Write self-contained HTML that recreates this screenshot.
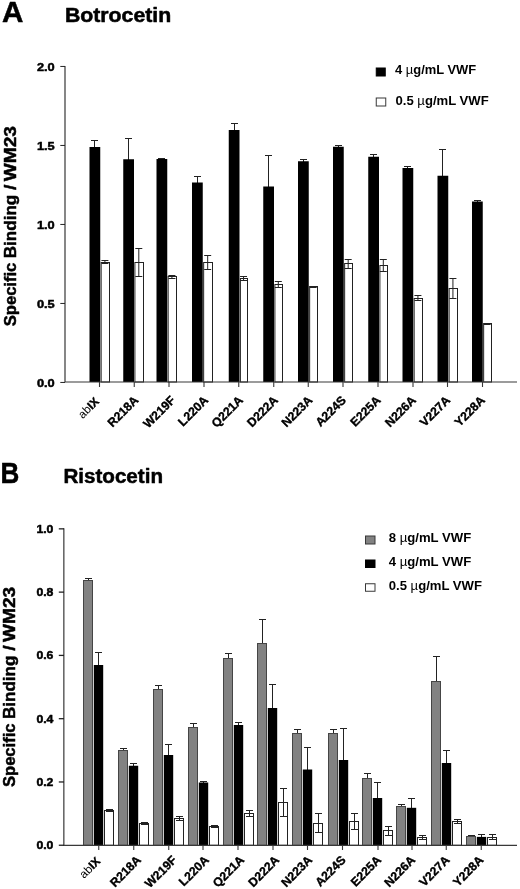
<!DOCTYPE html>
<html><head><meta charset="utf-8"><title>Figure</title>
<style>
html,body{margin:0;padding:0;background:#fff;}
body{width:520px;height:889px;overflow:hidden;font-family:"Liberation Sans",sans-serif;}
svg{display:block;filter:grayscale(1);}
svg text{font-family:"Liberation Sans",sans-serif;fill:#000;}
svg text.m{stroke:#000;stroke-width:0.5px;stroke-linejoin:round;}
svg text.m2{stroke:#000;stroke-width:0.35px;stroke-linejoin:round;}
</style></head><body>
<svg width="520" height="889" viewBox="0 0 520 889">
<rect width="520" height="889" fill="#fff"/>
<rect x="101.15" y="262.5" width="8.35" height="119.5" fill="#fff" stroke="#222" stroke-width="1"/>
<path d="M104.92 260.5V263.5M101.42 260.5H108.42M101.42 263.5H108.42" stroke="#222" stroke-width="1" fill="none"/>
<path d="M94.5 140.5V148M91 140.5H98" stroke="#222" stroke-width="1" fill="none"/>
<rect x="89.5" y="147" width="10.75" height="235" fill="#000"/>
<rect x="134.9" y="262.5" width="8.6" height="119.5" fill="#fff" stroke="#222" stroke-width="1"/>
<path d="M138.8 248.5V276.5M135.3 248.5H142.3M135.3 276.5H142.3" stroke="#222" stroke-width="1" fill="none"/>
<path d="M128.5 138.5V160.25M125 138.5H132" stroke="#222" stroke-width="1" fill="none"/>
<rect x="123.25" y="159.25" width="10.75" height="222.75" fill="#000"/>
<rect x="168.15" y="276.5" width="8.35" height="105.5" fill="#fff" stroke="#222" stroke-width="1"/>
<path d="M171.93 275.5V278.5M168.43 275.5H175.43M168.43 278.5H175.43" stroke="#222" stroke-width="1" fill="none"/>
<path d="M161.5 158.5V160M158 158.5H165" stroke="#222" stroke-width="1" fill="none"/>
<rect x="156.5" y="159" width="10.75" height="223" fill="#000"/>
<rect x="203.65" y="262.5" width="8.85" height="119.5" fill="#fff" stroke="#222" stroke-width="1"/>
<path d="M207.68 255.5V269.5M204.18 255.5H211.18M204.18 269.5H211.18" stroke="#222" stroke-width="1" fill="none"/>
<path d="M197.5 176.5V183.5M194 176.5H201" stroke="#222" stroke-width="1" fill="none"/>
<rect x="192" y="182.5" width="10.75" height="199.5" fill="#000"/>
<rect x="240.4" y="278.5" width="7.1" height="103.5" fill="#fff" stroke="#222" stroke-width="1"/>
<path d="M243.55 276.5V280.5M240.05 276.5H247.05M240.05 280.5H247.05" stroke="#222" stroke-width="1" fill="none"/>
<path d="M234.5 123.5V131M231 123.5H238" stroke="#222" stroke-width="1" fill="none"/>
<rect x="228.75" y="130" width="10.75" height="252" fill="#000"/>
<rect x="274.9" y="284.5" width="7.6" height="97.5" fill="#fff" stroke="#222" stroke-width="1"/>
<path d="M278.3 281.5V287.5M274.8 281.5H281.8M274.8 287.5H281.8" stroke="#222" stroke-width="1" fill="none"/>
<path d="M268.5 155.5V187.5M265 155.5H272" stroke="#222" stroke-width="1" fill="none"/>
<rect x="263.25" y="186.5" width="10.75" height="195.5" fill="#000"/>
<rect x="309.65" y="286.5" width="7.85" height="95.5" fill="#fff" stroke="#222" stroke-width="1"/>
<path d="M313.18 286.5V287.5M309.68 286.5H316.68M309.68 287.5H316.68" stroke="#222" stroke-width="1" fill="none"/>
<path d="M303.5 159.5V162.25M300 159.5H307" stroke="#222" stroke-width="1" fill="none"/>
<rect x="298" y="161.25" width="10.75" height="220.75" fill="#000"/>
<rect x="344.65" y="263.5" width="7.85" height="118.5" fill="#fff" stroke="#222" stroke-width="1"/>
<path d="M348.18 259.5V268.5M344.68 259.5H351.68M344.68 268.5H351.68" stroke="#222" stroke-width="1" fill="none"/>
<path d="M338.5 145.5V147.75M335 145.5H342" stroke="#222" stroke-width="1" fill="none"/>
<rect x="333" y="146.75" width="10.75" height="235.25" fill="#000"/>
<rect x="379.9" y="265.5" width="7.6" height="116.5" fill="#fff" stroke="#222" stroke-width="1"/>
<path d="M383.3 259.5V271.5M379.8 259.5H386.8M379.8 271.5H386.8" stroke="#222" stroke-width="1" fill="none"/>
<path d="M373.5 154.5V157.75M370 154.5H377" stroke="#222" stroke-width="1" fill="none"/>
<rect x="368.25" y="156.75" width="10.75" height="225.25" fill="#000"/>
<rect x="414.15" y="298.5" width="8.35" height="83.5" fill="#fff" stroke="#222" stroke-width="1"/>
<path d="M417.93 295.5V300.5M414.43 295.5H421.43M414.43 300.5H421.43" stroke="#222" stroke-width="1" fill="none"/>
<path d="M407.5 166.5V169M404 166.5H411" stroke="#222" stroke-width="1" fill="none"/>
<rect x="402.5" y="168" width="10.75" height="214" fill="#000"/>
<rect x="449.15" y="288.5" width="8.35" height="93.5" fill="#fff" stroke="#222" stroke-width="1"/>
<path d="M452.93 278.5V298.5M449.43 278.5H456.43M449.43 298.5H456.43" stroke="#222" stroke-width="1" fill="none"/>
<path d="M442.5 149.5V176.75M439 149.5H446" stroke="#222" stroke-width="1" fill="none"/>
<rect x="437.5" y="175.75" width="10.75" height="206.25" fill="#000"/>
<rect x="483.65" y="323.5" width="7.85" height="58.5" fill="#fff" stroke="#222" stroke-width="1"/>
<path d="M487.18 323.5V324.5M483.68 323.5H490.68M483.68 324.5H490.68" stroke="#222" stroke-width="1" fill="none"/>
<path d="M477.5 200.5V202.5M474 200.5H481" stroke="#222" stroke-width="1" fill="none"/>
<rect x="472" y="201.5" width="10.75" height="180.5" fill="#000"/>
<path d="M65 65.9V382H517" stroke="#383838" stroke-width="1.2" fill="none"/>
<path d="M60.3 66.45H65" stroke="#222" stroke-width="1"/>
<path d="M60.3 145.45H65" stroke="#222" stroke-width="1"/>
<path d="M60.3 224.45H65" stroke="#222" stroke-width="1"/>
<path d="M60.3 303.45H65" stroke="#222" stroke-width="1"/>
<path d="M60.3 382.45H65" stroke="#222" stroke-width="1"/>
<path d="M99.5 382V387" stroke="#383838" stroke-width="1.1"/>
<path d="M134.25 382V387" stroke="#383838" stroke-width="1.1"/>
<path d="M169 382V387" stroke="#383838" stroke-width="1.1"/>
<path d="M204 382V387" stroke="#383838" stroke-width="1.1"/>
<path d="M238.75 382V387" stroke="#383838" stroke-width="1.1"/>
<path d="M273.75 382V387" stroke="#383838" stroke-width="1.1"/>
<path d="M308.25 382V387" stroke="#383838" stroke-width="1.1"/>
<path d="M343 382V387" stroke="#383838" stroke-width="1.1"/>
<path d="M378 382V387" stroke="#383838" stroke-width="1.1"/>
<path d="M413 382V387" stroke="#383838" stroke-width="1.1"/>
<path d="M447.5 382V387" stroke="#383838" stroke-width="1.1"/>
<path d="M482.5 382V387" stroke="#383838" stroke-width="1.1"/>
<path d="M88.5 578.5V581M85 578.5H92" stroke="#222" stroke-width="1" fill="none"/>
<rect x="83.5" y="580.5" width="9" height="264.8" fill="#828282" stroke="#454545" stroke-width="1"/>
<path d="M98.5 652.5V666M95 652.5H102" stroke="#222" stroke-width="1" fill="none"/>
<rect x="93.8" y="665" width="9.4" height="180.3" fill="#000"/>
<rect x="104.5" y="810.5" width="9" height="34.8" fill="#fff" stroke="#222" stroke-width="1"/>
<path d="M109.5 809.5V811.5M106 809.5H113M106 811.5H113" stroke="#222" stroke-width="1" fill="none"/>
<path d="M123.5 748.5V751.75M120 748.5H127" stroke="#222" stroke-width="1" fill="none"/>
<rect x="118.5" y="750.5" width="9" height="94.8" fill="#828282" stroke="#454545" stroke-width="1"/>
<path d="M133.5 763.5V766.75M130 763.5H137" stroke="#222" stroke-width="1" fill="none"/>
<rect x="128.8" y="765.75" width="9.4" height="79.55" fill="#000"/>
<rect x="139.5" y="823.5" width="9" height="21.8" fill="#fff" stroke="#222" stroke-width="1"/>
<path d="M144.5 822.5V824.5M141 822.5H148M141 824.5H148" stroke="#222" stroke-width="1" fill="none"/>
<path d="M158.5 685.5V690.5M155 685.5H162" stroke="#222" stroke-width="1" fill="none"/>
<rect x="153.5" y="689.5" width="9" height="155.8" fill="#828282" stroke="#454545" stroke-width="1"/>
<path d="M168.5 744.5V756M165 744.5H172" stroke="#222" stroke-width="1" fill="none"/>
<rect x="163.8" y="755" width="9.4" height="90.3" fill="#000"/>
<rect x="174.5" y="818.5" width="9" height="26.8" fill="#fff" stroke="#222" stroke-width="1"/>
<path d="M179.5 816.5V820.5M176 816.5H183M176 820.5H183" stroke="#222" stroke-width="1" fill="none"/>
<path d="M193.5 723.5V728.5M190 723.5H197" stroke="#222" stroke-width="1" fill="none"/>
<rect x="188.5" y="727.5" width="9" height="117.8" fill="#828282" stroke="#454545" stroke-width="1"/>
<path d="M203.5 781.5V783.5M200 781.5H207" stroke="#222" stroke-width="1" fill="none"/>
<rect x="198.8" y="782.5" width="9.4" height="62.8" fill="#000"/>
<rect x="209.5" y="826.5" width="9" height="18.8" fill="#fff" stroke="#222" stroke-width="1"/>
<path d="M214.5 825.5V827.5M211 825.5H218M211 827.5H218" stroke="#222" stroke-width="1" fill="none"/>
<path d="M228.5 653.5V659M225 653.5H232" stroke="#222" stroke-width="1" fill="none"/>
<rect x="223.5" y="658.5" width="9" height="186.8" fill="#828282" stroke="#454545" stroke-width="1"/>
<path d="M238.5 722.5V726M235 722.5H242" stroke="#222" stroke-width="1" fill="none"/>
<rect x="233.8" y="725" width="9.4" height="120.3" fill="#000"/>
<rect x="244.5" y="813.5" width="9" height="31.8" fill="#fff" stroke="#222" stroke-width="1"/>
<path d="M249.5 810.5V816.5M246 810.5H253M246 816.5H253" stroke="#222" stroke-width="1" fill="none"/>
<path d="M262.5 619.5V644.5M259 619.5H266" stroke="#222" stroke-width="1" fill="none"/>
<rect x="257.5" y="643.5" width="9" height="201.8" fill="#828282" stroke="#454545" stroke-width="1"/>
<path d="M272.5 684.5V709M269 684.5H276" stroke="#222" stroke-width="1" fill="none"/>
<rect x="267.8" y="708" width="9.4" height="137.3" fill="#000"/>
<rect x="278.5" y="802.5" width="9" height="42.8" fill="#fff" stroke="#222" stroke-width="1"/>
<path d="M283.5 788.5V816.5M280 788.5H287M280 816.5H287" stroke="#222" stroke-width="1" fill="none"/>
<path d="M297.5 729.5V734.75M294 729.5H301" stroke="#222" stroke-width="1" fill="none"/>
<rect x="292.5" y="733.5" width="9" height="111.8" fill="#828282" stroke="#454545" stroke-width="1"/>
<path d="M307.5 747.5V770.5M304 747.5H311" stroke="#222" stroke-width="1" fill="none"/>
<rect x="302.8" y="769.5" width="9.4" height="75.8" fill="#000"/>
<rect x="313.5" y="823.5" width="9" height="21.8" fill="#fff" stroke="#222" stroke-width="1"/>
<path d="M318.5 813.5V832.5M315 813.5H322M315 832.5H322" stroke="#222" stroke-width="1" fill="none"/>
<path d="M333.5 729.5V734.75M330 729.5H337" stroke="#222" stroke-width="1" fill="none"/>
<rect x="328.5" y="733.5" width="9" height="111.8" fill="#828282" stroke="#454545" stroke-width="1"/>
<path d="M343.5 728.5V761M340 728.5H347" stroke="#222" stroke-width="1" fill="none"/>
<rect x="338.8" y="760" width="9.4" height="85.3" fill="#000"/>
<rect x="349.5" y="821.5" width="9" height="23.8" fill="#fff" stroke="#222" stroke-width="1"/>
<path d="M354.5 813.5V829.5M351 813.5H358M351 829.5H358" stroke="#222" stroke-width="1" fill="none"/>
<path d="M367.5 773.5V779.25M364 773.5H371" stroke="#222" stroke-width="1" fill="none"/>
<rect x="362.5" y="778.5" width="9" height="66.8" fill="#828282" stroke="#454545" stroke-width="1"/>
<path d="M377.5 782.5V799M374 782.5H381" stroke="#222" stroke-width="1" fill="none"/>
<rect x="372.8" y="798" width="9.4" height="47.3" fill="#000"/>
<rect x="383.5" y="830.5" width="9" height="14.8" fill="#fff" stroke="#222" stroke-width="1"/>
<path d="M388.5 826.5V835.5M385 826.5H392M385 835.5H392" stroke="#222" stroke-width="1" fill="none"/>
<path d="M401.5 804.5V807.75M398 804.5H405" stroke="#222" stroke-width="1" fill="none"/>
<rect x="396.5" y="806.5" width="9" height="38.8" fill="#828282" stroke="#454545" stroke-width="1"/>
<path d="M411.5 798.5V808.8M408 798.5H415" stroke="#222" stroke-width="1" fill="none"/>
<rect x="406.8" y="807.8" width="9.4" height="37.5" fill="#000"/>
<rect x="417.5" y="837.5" width="9" height="7.8" fill="#fff" stroke="#222" stroke-width="1"/>
<path d="M422.5 835.5V839.5M419 835.5H426M419 839.5H426" stroke="#222" stroke-width="1" fill="none"/>
<path d="M436.5 656.5V682.5M433 656.5H440" stroke="#222" stroke-width="1" fill="none"/>
<rect x="431.5" y="681.5" width="9" height="163.8" fill="#828282" stroke="#454545" stroke-width="1"/>
<path d="M446.5 750.5V764M443 750.5H450" stroke="#222" stroke-width="1" fill="none"/>
<rect x="441.8" y="763" width="9.4" height="82.3" fill="#000"/>
<rect x="452.5" y="821.5" width="9" height="23.8" fill="#fff" stroke="#222" stroke-width="1"/>
<path d="M457.5 819.5V823.5M454 819.5H461M454 823.5H461" stroke="#222" stroke-width="1" fill="none"/>
<path d="M471.5 835.5V837.9M468 835.5H475" stroke="#222" stroke-width="1" fill="none"/>
<rect x="466.5" y="836.5" width="9" height="8.8" fill="#828282" stroke="#454545" stroke-width="1"/>
<path d="M481.5 834.5V837.9M478 834.5H485" stroke="#222" stroke-width="1" fill="none"/>
<rect x="476.8" y="836.9" width="9.4" height="8.4" fill="#000"/>
<rect x="487.5" y="837.5" width="9" height="7.8" fill="#fff" stroke="#222" stroke-width="1"/>
<path d="M492.5 834.5V839.5M489 834.5H496M489 839.5H496" stroke="#222" stroke-width="1" fill="none"/>
<path d="M63.85 528.3V845.3H517" stroke="#383838" stroke-width="1.2" fill="none"/>
<path d="M58.8 528.85H64" stroke="#222" stroke-width="1.3"/>
<path d="M58.8 592.13H64" stroke="#222" stroke-width="1.3"/>
<path d="M58.8 655.41H64" stroke="#222" stroke-width="1.3"/>
<path d="M58.8 718.69H64" stroke="#222" stroke-width="1.3"/>
<path d="M58.8 781.97H64" stroke="#222" stroke-width="1.3"/>
<path d="M58.8 845.25H64" stroke="#222" stroke-width="1.3"/>
<path d="M98.75 845.3V850" stroke="#383838" stroke-width="1.1"/>
<path d="M133.75 845.3V850" stroke="#383838" stroke-width="1.1"/>
<path d="M168.75 845.3V850" stroke="#383838" stroke-width="1.1"/>
<path d="M203 845.3V850" stroke="#383838" stroke-width="1.1"/>
<path d="M238 845.3V850" stroke="#383838" stroke-width="1.1"/>
<path d="M273 845.3V850" stroke="#383838" stroke-width="1.1"/>
<path d="M307.5 845.3V850" stroke="#383838" stroke-width="1.1"/>
<path d="M342.5 845.3V850" stroke="#383838" stroke-width="1.1"/>
<path d="M378 845.3V850" stroke="#383838" stroke-width="1.1"/>
<path d="M412 845.3V850" stroke="#383838" stroke-width="1.1"/>
<path d="M446.25 845.3V850" stroke="#383838" stroke-width="1.1"/>
<path d="M481.25 845.3V850" stroke="#383838" stroke-width="1.1"/>
<text x="2" y="22.3" font-size="29.8" font-weight="bold" text-anchor="start" textLength="21.4" lengthAdjust="spacingAndGlyphs" class="m">A</text>
<text x="64.9" y="22" font-size="19.4" font-weight="bold" text-anchor="start" textLength="106.3" lengthAdjust="spacingAndGlyphs" class="m">Botrocetin</text>
<text x="0.4" y="483.3" font-size="29.2" font-weight="bold" text-anchor="start" textLength="18.8" lengthAdjust="spacingAndGlyphs" class="m">B</text>
<text x="63.4" y="482.8" font-size="19.4" font-weight="bold" text-anchor="start" textLength="99.6" lengthAdjust="spacingAndGlyphs" class="m">Ristocetin</text>
<text x="36.9" y="70.55" font-size="11.4" font-weight="bold" text-anchor="start" textLength="17.8" lengthAdjust="spacingAndGlyphs" class="m">2.0</text>
<text x="36.9" y="149.55" font-size="11.4" font-weight="bold" text-anchor="start" textLength="17.8" lengthAdjust="spacingAndGlyphs" class="m">1.5</text>
<text x="36.9" y="228.55" font-size="11.4" font-weight="bold" text-anchor="start" textLength="17.8" lengthAdjust="spacingAndGlyphs" class="m">1.0</text>
<text x="36.9" y="307.55" font-size="11.4" font-weight="bold" text-anchor="start" textLength="17.8" lengthAdjust="spacingAndGlyphs" class="m">0.5</text>
<text x="36.9" y="386.55" font-size="11.4" font-weight="bold" text-anchor="start" textLength="17.8" lengthAdjust="spacingAndGlyphs" class="m">0.0</text>
<text x="36.4" y="532.9" font-size="11.4" font-weight="bold" text-anchor="start" textLength="17" lengthAdjust="spacingAndGlyphs" class="m">1.0</text>
<text x="36.4" y="596.18" font-size="11.4" font-weight="bold" text-anchor="start" textLength="17" lengthAdjust="spacingAndGlyphs" class="m">0.8</text>
<text x="36.4" y="659.46" font-size="11.4" font-weight="bold" text-anchor="start" textLength="17" lengthAdjust="spacingAndGlyphs" class="m">0.6</text>
<text x="36.4" y="722.74" font-size="11.4" font-weight="bold" text-anchor="start" textLength="17" lengthAdjust="spacingAndGlyphs" class="m">0.4</text>
<text x="36.4" y="786.02" font-size="11.4" font-weight="bold" text-anchor="start" textLength="17" lengthAdjust="spacingAndGlyphs" class="m">0.2</text>
<text x="36.4" y="849.3" font-size="11.4" font-weight="bold" text-anchor="start" textLength="17" lengthAdjust="spacingAndGlyphs" class="m">0.0</text>
<text transform="translate(15.6 326.2) rotate(-90)" class="m" font-size="17.3" font-weight="bold" textLength="63.5" lengthAdjust="spacingAndGlyphs">Specific</text>
<text transform="translate(15.6 258.2) rotate(-90)" class="m" font-size="17.3" font-weight="bold" textLength="63.4" lengthAdjust="spacingAndGlyphs">Binding</text>
<text transform="translate(15.6 190) rotate(-90)" class="m" font-size="17.3" font-weight="bold" textLength="5.4" lengthAdjust="spacingAndGlyphs">/</text>
<text transform="translate(15.6 181.2) rotate(-90)" class="m" font-size="17.3" font-weight="bold" textLength="55.1" lengthAdjust="spacingAndGlyphs">WM23</text>
<text transform="translate(15.2 787) rotate(-90)" class="m" font-size="17.3" font-weight="bold" textLength="63.5" lengthAdjust="spacingAndGlyphs">Specific</text>
<text transform="translate(15.2 719) rotate(-90)" class="m" font-size="17.3" font-weight="bold" textLength="63.4" lengthAdjust="spacingAndGlyphs">Binding</text>
<text transform="translate(15.2 650.8) rotate(-90)" class="m" font-size="17.3" font-weight="bold" textLength="5.4" lengthAdjust="spacingAndGlyphs">/</text>
<text transform="translate(15.2 642) rotate(-90)" class="m" font-size="17.3" font-weight="bold" textLength="55.1" lengthAdjust="spacingAndGlyphs">WM23</text>
<text transform="translate(99.7 402.2) rotate(-45)" class="m2" font-size="11.7" font-weight="bold" text-anchor="end"><tspan font-weight="normal" stroke="none">ab</tspan>IX</text>
<text transform="translate(139.25 401) rotate(-45)" class="m2" font-size="12.2" font-weight="bold" text-anchor="end">R218A</text>
<text transform="translate(176 401) rotate(-45)" class="m2" font-size="12.2" font-weight="bold" text-anchor="end">W219F</text>
<text transform="translate(209 401) rotate(-45)" class="m2" font-size="12.2" font-weight="bold" text-anchor="end">L220A</text>
<text transform="translate(243.75 401) rotate(-45)" class="m2" font-size="12.2" font-weight="bold" text-anchor="end">Q221A</text>
<text transform="translate(278.75 401) rotate(-45)" class="m2" font-size="12.2" font-weight="bold" text-anchor="end">D222A</text>
<text transform="translate(313.25 401) rotate(-45)" class="m2" font-size="12.2" font-weight="bold" text-anchor="end">N223A</text>
<text transform="translate(346.75 401) rotate(-45)" class="m2" font-size="12.2" font-weight="bold" text-anchor="end">A224S</text>
<text transform="translate(381.5 401) rotate(-45)" class="m2" font-size="12.2" font-weight="bold" text-anchor="end">E225A</text>
<text transform="translate(416.75 401) rotate(-45)" class="m2" font-size="12.2" font-weight="bold" text-anchor="end">N226A</text>
<text transform="translate(451 401) rotate(-45)" class="m2" font-size="12.2" font-weight="bold" text-anchor="end">V227A</text>
<text transform="translate(485.75 401) rotate(-45)" class="m2" font-size="12.2" font-weight="bold" text-anchor="end">Y228A</text>
<text transform="translate(101.05 862) rotate(-45)" class="m2" font-size="11.7" font-weight="bold" text-anchor="end"><tspan font-weight="normal" stroke="none">ab</tspan>IX</text>
<text transform="translate(141.75 860.8) rotate(-45)" class="m2" font-size="12.2" font-weight="bold" text-anchor="end">R218A</text>
<text transform="translate(177.5 860.8) rotate(-45)" class="m2" font-size="12.2" font-weight="bold" text-anchor="end">W219F</text>
<text transform="translate(209.75 860.8) rotate(-45)" class="m2" font-size="12.2" font-weight="bold" text-anchor="end">L220A</text>
<text transform="translate(245 860.8) rotate(-45)" class="m2" font-size="12.2" font-weight="bold" text-anchor="end">Q221A</text>
<text transform="translate(280 860.8) rotate(-45)" class="m2" font-size="12.2" font-weight="bold" text-anchor="end">D222A</text>
<text transform="translate(313 860.8) rotate(-45)" class="m2" font-size="12.2" font-weight="bold" text-anchor="end">N223A</text>
<text transform="translate(346.5 860.8) rotate(-45)" class="m2" font-size="12.2" font-weight="bold" text-anchor="end">A224S</text>
<text transform="translate(382 860.8) rotate(-45)" class="m2" font-size="12.2" font-weight="bold" text-anchor="end">E225A</text>
<text transform="translate(416 860.8) rotate(-45)" class="m2" font-size="12.2" font-weight="bold" text-anchor="end">N226A</text>
<text transform="translate(450.5 860.8) rotate(-45)" class="m2" font-size="12.2" font-weight="bold" text-anchor="end">V227A</text>
<text transform="translate(484.25 860.8) rotate(-45)" class="m2" font-size="12.2" font-weight="bold" text-anchor="end">Y228A</text>
<rect x="376.25" y="68" width="9" height="8" fill="#000" stroke="#000" stroke-width="1"/>
<text x="395" y="74.2" font-size="13.1" font-weight="bold" textLength="81.25" lengthAdjust="spacingAndGlyphs">4 <tspan font-weight="normal">µ</tspan>g/mL VWF</text>
<rect x="376.25" y="98" width="9.5" height="8" fill="#fff" stroke="#383838" stroke-width="1"/>
<text x="395.5" y="105.4" font-size="13.1" font-weight="bold" textLength="93.25" lengthAdjust="spacingAndGlyphs">0.5 <tspan font-weight="normal">µ</tspan>g/mL VWF</text>
<rect x="365.5" y="536" width="9.5" height="8" fill="#828282" stroke="#383838" stroke-width="1"/>
<text x="388.75" y="542" font-size="13.1" font-weight="bold" textLength="82.5" lengthAdjust="spacingAndGlyphs">8 <tspan font-weight="normal">µ</tspan>g/mL VWF</text>
<rect x="365.5" y="560" width="9.5" height="7.5" fill="#000" stroke="#000" stroke-width="1"/>
<text x="388.75" y="566.2" font-size="13.1" font-weight="bold" textLength="82.5" lengthAdjust="spacingAndGlyphs">4 <tspan font-weight="normal">µ</tspan>g/mL VWF</text>
<rect x="365.5" y="583.75" width="9.5" height="7.5" fill="#fff" stroke="#383838" stroke-width="1"/>
<text x="388.75" y="590.2" font-size="13.1" font-weight="bold" textLength="93.25" lengthAdjust="spacingAndGlyphs">0.5 <tspan font-weight="normal">µ</tspan>g/mL VWF</text>
</svg>
</body></html>
